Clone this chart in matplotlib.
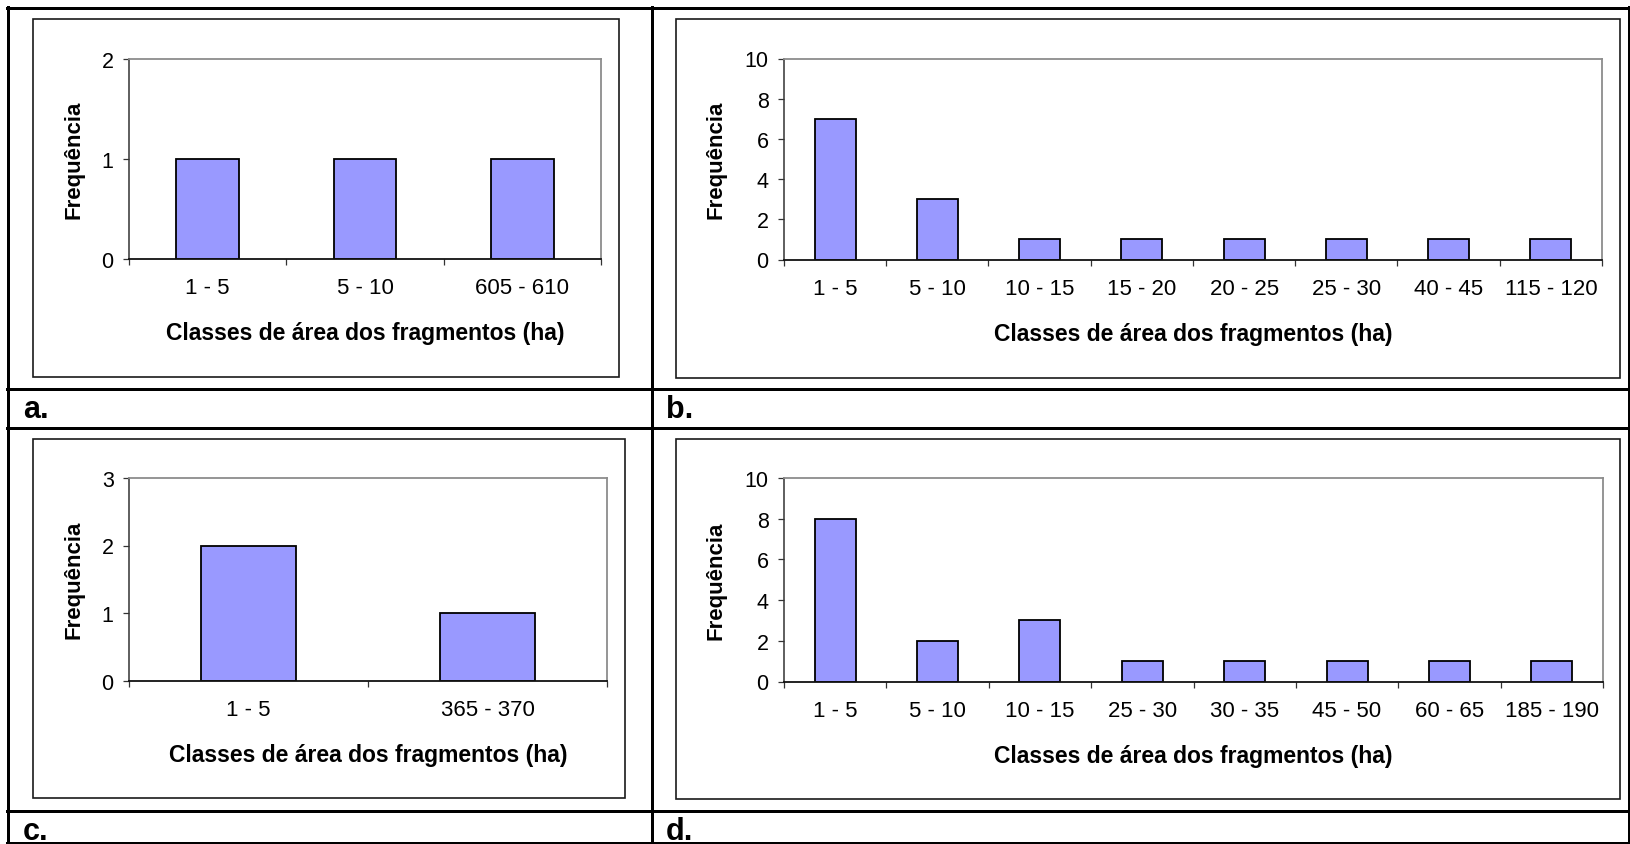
import matplotlib
matplotlib.use("Agg")
import matplotlib.pyplot as plt
from matplotlib.lines import Line2D
from matplotlib.patches import Rectangle
import numpy as np

plt.rcParams['font.family'] = ['Liberation Sans', 'DejaVu Sans']

# ---------------- data ----------------
a_classes = ["1 - 5", "5 - 10", "605 - 610"]
a_freq = [1, 1, 1]
b_classes = ["1 - 5", "5 - 10", "10 - 15", "15 - 20", "20 - 25", "25 - 30", "40 - 45", "115 - 120"]
b_freq = [7, 3, 1, 1, 1, 1, 1, 1]
c_classes = ["1 - 5", "365 - 370"]
c_freq = [2, 1]
d_classes = ["1 - 5", "5 - 10", "10 - 15", "25 - 30", "30 - 35", "45 - 50", "60 - 65", "185 - 190"]
d_freq = [8, 2, 3, 1, 1, 1, 1, 1]

a_yticks = [0, 1, 2]
b_yticks = [0, 2, 4, 6, 8, 10]
c_yticks = [0, 1, 2, 3]
d_yticks = [0, 2, 4, 6, 8, 10]

xlabel_text = "Classes de área dos fragmentos (ha)"
ylabel_text = "Frequência"
panel_labels = ["a.", "b.", "c.", "d."]

# ---------------- layout ----------------
W, H = 1631, 845
fig = plt.figure(figsize=(W / 100, H / 100), dpi=100)
fig.patch.set_facecolor("white")


def fx(x):
    return x / W


def fy(y):
    return 1 - y / H


def rect(l, t, r, b):
    return [fx(l), fy(b), (r - l) / W, (b - t) / H]


# table lines
tbl_lw = 3 * 72 / 100
for (x0, y0, x1, y1) in [
    (7, 8.5, 1630, 8.5), (7, 844, 1630, 844),
    (8.5, 8, 8.5, 845), (1629.5, 8, 1629.5, 845),
    (652, 8, 652, 845),
    (7, 389.5, 1630, 389.5), (7, 429, 1630, 429), (7, 811.5, 1630, 811.5),
]:
    fig.add_artist(Line2D([fx(x0), fx(x1)], [fy(y0), fy(y1)], color="black",
                          lw=tbl_lw, solid_capstyle="projecting"))

# chart area boxes
boxes = [(33, 19.5, 619, 377.5), (676, 19.5, 1620, 378.5),
         (33, 439.5, 625, 798.5), (676, 439.5, 1620, 800)]
for (l, t, r, b) in boxes:
    fig.add_artist(Rectangle((fx(l), fy(b)), (r - l) / W, (b - t) / H,
                             transform=fig.transFigure, fill=False,
                             edgecolor="#1a1a1a", lw=1.2))

axes_px = [(129, 59.5, 601, 259.5), (784, 59.5, 1602, 260.5),
           (129, 479, 607, 681.5), (784, 479, 1603, 682.5)]
ylabel_off = [55, 68, 55, 68]

datasets = [(a_classes, a_freq, a_yticks), (b_classes, b_freq, b_yticks),
            (c_classes, c_freq, c_yticks), (d_classes, d_freq, d_yticks)]

for i, ((cls, freq, yt), (l, t, r, b)) in enumerate(zip(datasets, axes_px)):
    ax = fig.add_axes(rect(l, t, r, b))
    n = len(cls)
    x = np.arange(n)
    ax.bar(x, freq, width=0.4, color="#9999FF", edgecolor="black", linewidth=1.3, zorder=3)
    ax.set_xlim(-0.5, n - 0.5)
    ax.set_ylim(yt[0], yt[-1])
    ax.set_yticks(yt)
    ax.set_yticklabels([str(v) for v in yt], fontsize=15.5)
    ax.set_xticks(x)
    ax.set_xticklabels(cls, fontsize=16)
    ax.set_xticks(np.arange(n + 1) - 0.5, minor=True)
    ax.tick_params(axis="x", which="major", length=0, pad=13.5)
    ax.tick_params(axis="x", which="minor", length=4.5, width=0.9, direction="out", color="#333333")
    ax.tick_params(axis="y", which="major", length=4.5, width=0.9, direction="out", pad=6.5, color="#333333")
    for s in ("top", "right"):
        ax.spines[s].set_color("#8c8c8c")
        ax.spines[s].set_linewidth(1.3)
    ax.spines["left"].set_color("#333333")
    ax.spines["left"].set_linewidth(1.1)
    ax.spines["bottom"].set_color("#111111")
    ax.spines["bottom"].set_linewidth(1.3)
    ax.spines["bottom"].set_zorder(4)

    hpx = b - t
    wpx = r - l
    ax.set_xlabel(xlabel_text, fontsize=16.5, fontweight="bold")
    ax.xaxis.label.set_va("center")
    ax.xaxis.set_label_coords(0.5, -74 / hpx)
    ax.set_ylabel(ylabel_text, fontsize=16, fontweight="bold")
    ax.yaxis.label.set_va("center")
    ax.yaxis.set_label_coords(-ylabel_off[i] / wpx, 0.5)

# panel labels
for lab, (px, py) in zip(panel_labels, [(23, 410.5), (666, 410), (23, 832), (666, 832)]):
    fig.text(fx(px), fy(py), lab, fontsize=22, fontweight="bold", ha="left", va="center")

fig.savefig("out.png", dpi=100, facecolor="white")
